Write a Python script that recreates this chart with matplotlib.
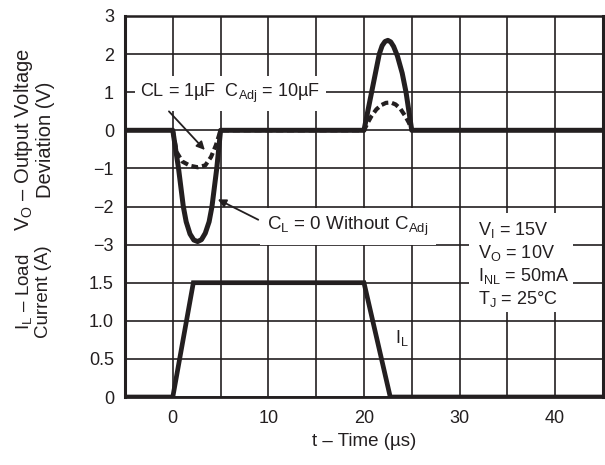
import matplotlib
matplotlib.use("Agg")
import matplotlib.pyplot as plt
from matplotlib.patches import Rectangle

plt.rcParams['font.family'] = ['Liberation Sans', 'DejaVu Sans']
plt.rcParams['mathtext.fontset'] = 'custom'
plt.rcParams['mathtext.rm'] = 'Liberation Sans'
plt.rcParams['mathtext.it'] = 'Liberation Sans:italic'
plt.rcParams['mathtext.bf'] = 'Liberation Sans:bold'

INK = '#231F20'

# output voltage deviation, C_L = 0 without C_Adj (V)
t_vo = [-5, 0, 0.3, 0.6, 1.1, 1.4, 1.8, 2.2, 2.6, 3.0, 3.4, 3.8, 4.1, 4.6, 5.0,
        20.0, 20.4, 20.8, 21.2, 21.6, 21.9, 22.2, 22.5, 22.8, 23.1, 23.5, 24.0, 24.4, 25.0, 45]
vo = [0, 0, -0.5, -1.0, -2.0, -2.4, -2.72, -2.88, -2.92, -2.87, -2.7, -2.4, -2.0, -1.0, 0,
      0, 0.5, 1.0, 1.5, 2.0, 2.22, 2.33, 2.36, 2.32, 2.2, 1.95, 1.5, 1.0, 0, 0]

# output voltage deviation, C_L = 1uF, C_Adj = 10uF (V)
t_vo_cap = [0, 0.4, 1.0, 1.8, 2.6, 3.4, 4.0, 4.5, 5.0,
            20.0, 20.4, 20.8, 21.3, 21.8, 22.3, 22.8, 23.3, 23.8, 24.3, 24.7, 25.0]
vo_cap = [0, -0.57, -0.82, -0.93, -0.97, -0.92, -0.7, -0.4, 0,
          0, 0.2, 0.38, 0.55, 0.66, 0.72, 0.73, 0.68, 0.57, 0.38, 0.2, 0]

# load current (A)
t_il = [-5, 0, 2.15, 20.0, 22.75, 45]
il = [0, 0, 1.5, 1.5, 0, 0]

x_ticks = [-5, 0, 5, 10, 15, 20, 25, 30, 35, 40, 45]
x_labels = ['', '0', '', '10', '', '20', '', '30', '', '40', '']
y_labels = ['0', '0.5', '1.0', '1.5', '\u22123', '\u22122', '\u22121', '0', '1', '2', '3']

conditions = [r'$\mathrm{V_I}$ = 15V', r'$\mathrm{V_O}$ = 10V',
              r'$\mathrm{I_{NL}}$ = 50mA', r'$\mathrm{T_J}$ = 25°C']


# both panels share one grid: voltage sits on top of current
def v_pos(v):
    return [7 + a for a in v]


def i_pos(i):
    return [2 * a for a in i]


fig = plt.figure(figsize=(6.05, 4.65), dpi=100)
ax = fig.add_axes([0.2066, 0.1462, 0.790, 0.8194])

ax.plot(t_vo, v_pos(vo), color=INK, lw=3.6, solid_joinstyle='round', zorder=3)
ax.plot(t_vo_cap, v_pos(vo_cap), color=INK, lw=3.0, linestyle=(0, (1.7, 0.9)), zorder=3)
ax.plot(t_il, i_pos(il), color=INK, lw=3.4, solid_joinstyle='miter', zorder=3)

ax.set_xlim(-5, 45)
ax.set_ylim(0, 10)
ax.set_xticks(x_ticks)
ax.set_xticklabels(x_labels)
ax.set_yticks(range(len(y_labels)))
ax.set_yticklabels(y_labels)
ax.tick_params(length=0, labelsize=13, colors=INK)
ax.tick_params(axis='y', pad=8)
ax.tick_params(axis='x', pad=9)
ax.set_axisbelow(True)
ax.grid(True, color=INK, lw=1.2)
for side, w in [('left', 2.2), ('right', 2.2), ('top', 1.8), ('bottom', 2.0)]:
    ax.spines[side].set_linewidth(w)
    ax.spines[side].set_color(INK)

ax.text(-3.4, 7.97, 'CL = 1µF  $\\mathrm{C_{Adj}}$ = 10µF', fontsize=13, color=INK,
        va='center', ha='left', bbox=dict(facecolor='white', edgecolor='none', pad=4), zorder=4)
ax.annotate('', xy=(3.55, v_pos([-0.57])[0]), xytext=(-0.6, v_pos([0.55])[0]),
            arrowprops=dict(arrowstyle='-|>', color=INK, lw=1.3, mutation_scale=12), zorder=4)

ax.text(9.9, 4.48, '$\\mathrm{C_L}$ = 0 Without $\\mathrm{C_{Adj}}$', fontsize=13.5, color=INK,
        va='center', ha='left', bbox=dict(facecolor='white', edgecolor='none', pad=5), zorder=4)
ax.annotate('', xy=(4.45, v_pos([-1.78])[0]), xytext=(9.2, v_pos([-2.38])[0]),
            arrowprops=dict(arrowstyle='-|>', color=INK, lw=1.3, mutation_scale=12), zorder=4)

ax.add_patch(Rectangle((31.0, 2.23), 10.9, 2.6, facecolor='white', edgecolor='none', zorder=2.5))
for k, s in enumerate(conditions):
    ax.text(31.9, 4.38 - 0.6 * k, s, fontsize=13, color=INK, va='center', ha='left', zorder=4)

ax.text(23.2, 1.55, '$\\mathrm{I_L}$', fontsize=13, color=INK, va='center', ha='left', zorder=4)

fig.text(0.055, 0.70, '$\\mathrm{V_O}$ \u2013 Output Voltage\nDeviation (V)', rotation=90,
         fontsize=14.5, color=INK, ha='center', va='center', multialignment='center',
         linespacing=1.05)
fig.text(0.055, 0.372, '$\\mathrm{I_L}$ \u2013 Load\nCurrent (A)', rotation=90,
         fontsize=13.5, color=INK, ha='center', va='center', multialignment='center',
         linespacing=1.05)
fig.text(0.6017, 0.05, 't \u2013 Time (µs)', fontsize=13.5, color=INK, ha='center', va='center')

fig.savefig('out.png', dpi=100)
